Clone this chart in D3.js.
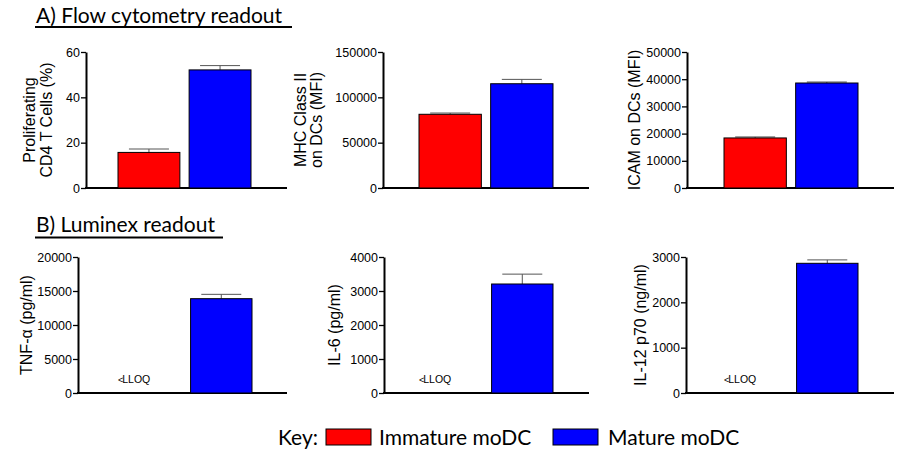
<!DOCTYPE html>
<html>
<head>
<meta charset="utf-8">
<script src="https://cdn.jsdelivr.net/npm/d3@7"></script>
<style>
  body { margin: 0; background: #fff; }
  svg { display: block; }
  .axis text { font-family: 'Liberation Sans', Arial, sans-serif; font-size: 12.5px; fill: #000; }
  .ylabel { font-family: 'Liberation Sans', Arial, sans-serif; font-size: 16px; fill: #000; }
  .head { font-family: Lato, 'Open Sans', sans-serif; font-size: 21px; fill: #000; }
</style>
</head>
<body>
<div id="chart"></div>
<script>
// groups and colours
const groups = ['Immature moDC', 'Mature moDC']
const groupColors = ['#ff0000', '#0000ff']

// one entry per panel (A top row, B bottom row)
const yLabels = [
  ['Proliferating', 'CD4 T Cells (%)'],
  ['MHC Class II', 'on DCs (MFI)'],
  ['ICAM on DCs (MFI)'],
  ['TNF-\u03b1 (pg/ml)'],
  ['IL-6 (pg/ml)'],
  ['IL-12 p70 (ng/ml)']
]
// null = below lower limit of quantification
const means = [
  [15.7, 52.1],
  [81300, 115000],
  [18400, 38600],
  [null, 13870],
  [null, 3206],
  [null, 2861]
]
const errors = [
  [1.5, 1.9],
  [1400, 4800],
  [370, 370],
  [null, 640],
  [null, 290],
  [null, 75]
]
const yMax = [60, 150000, 50000, 20000, 4000, 3000]
const yStep = [20, 50000, 10000, 5000, 1000, 1000]

const sectionTitles = ['A) Flow cytometry readout', 'B) Luminex readout']

// layout (pixels)
const layout = [
  { ax: 86, top: 52, bot: 188, bars: [118, 251], end: 287, lx: [35, 51.5] },
  { ax: 383, top: 52, bot: 188, bars: [419, 553], end: 589, lx: [305.5, 322] },
  { ax: 687, top: 52, bot: 188, bars: [724, 858], end: 894, lx: [640] },
  { ax: 78, top: 257, bot: 393, bars: [120, 252], end: 287, lx: [32] },
  { ax: 384, top: 257, bot: 393, bars: [421, 553], end: 589, lx: [340] },
  { ax: 686, top: 257, bot: 393, bars: [726, 858], end: 894, lx: [645.5] }
]

const svg = d3.select('#chart')
  .append('svg')
  .attr('width', 905)
  .attr('height', 453)

// section headings with underline
const heads = [{ x: 36, y: 23, ul: [35, 292], uy: 27 }, { x: 36, y: 232, ul: [35, 223], uy: 237.5 }]
heads.forEach(function (h, i) {
  svg.append('text').attr('class', 'head')
    .attr('x', h.x).attr('y', h.y)
    .text(sectionTitles[i])
  svg.append('line')
    .attr('x1', h.ul[0]).attr('x2', h.ul[1])
    .attr('y1', h.uy).attr('y2', h.uy)
    .attr('stroke', '#000').attr('stroke-width', 2)
})

layout.forEach(function (p, i) {
  const g = svg.append('g')

  const y = d3.scaleLinear().domain([0, yMax[i]]).range([p.bot, p.top])
  const x = d3.scaleBand().domain(groups).range(p.bars).paddingInner(0.13).paddingOuter(0)

  const ticks = d3.range(0, yMax[i] + yStep[i] / 2, yStep[i])
  const yAxis = d3.axisLeft(y)
    .tickValues(ticks)
    .tickFormat(d3.format('d'))
    .tickSize(5)
    .tickSizeOuter(0)
    .tickPadding(1)

  const ag = g.append('g')
    .attr('class', 'axis')
    .attr('transform', 'translate(' + p.ax + ',0)')
    .call(yAxis)
  ag.select('.domain').attr('stroke-width', 2)
  ag.selectAll('.tick line').attr('stroke-width', 1.3)

  // baseline
  g.append('line')
    .attr('x1', p.ax - 1).attr('x2', p.end)
    .attr('y1', p.bot).attr('y2', p.bot)
    .attr('stroke', '#000').attr('stroke-width', 2)

  const rows = groups.map(function (name, j) {
    return { name: name, value: means[i][j], err: errors[i][j], color: groupColors[j] }
  })

  const measured = rows.filter(d => d.value !== null)

  // error bars (upper only)
  g.selectAll('.err')
    .data(measured)
    .enter()
    .append('path')
    .attr('fill', 'none')
    .attr('stroke', '#555')
    .attr('stroke-width', 1)
    .attr('d', function (d) {
      const cx = x(d.name) + x.bandwidth() / 2
      const yt = y(d.value + d.err)
      return 'M' + cx + ',' + y(d.value) + 'V' + yt + 'M' + (cx - 20) + ',' + yt + 'H' + (cx + 20)
    })

  g.selectAll('rect')
    .data(measured)
    .enter()
    .append('rect')
    .attr('x', d => x(d.name))
    .attr('y', d => y(d.value))
    .attr('width', x.bandwidth())
    .attr('height', d => p.bot - y(d.value))
    .attr('fill', d => d.color)
    .attr('stroke', '#000')
    .attr('stroke-width', 1)

  // <LLOQ markers
  rows.filter(d => d.value === null).forEach(function (d) {
    const t = g.append('text')
      .attr('x', x(d.name) - 2)
      .attr('y', p.bot - 10)
      .style('font-family', "'Liberation Sans', Arial, sans-serif")
      .style('font-size', '10.5px')
    t.append('tspan').style('font-size', '9px').attr('dy', -0.5).text('<')
    t.append('tspan').attr('dy', 0.5).attr('dx', -1).text('LLOQ')
  })

  // y-axis title
  const midY = (p.top + p.bot) / 2
  yLabels[i].forEach(function (line, k) {
    g.append('text')
      .attr('class', 'ylabel')
      .attr('text-anchor', 'middle')
      .attr('transform', 'translate(' + p.lx[k] + ',' + midY + ') rotate(-90)')
      .text(line)
  })
})

// key
const key = svg.append('g')
  .style('font-family', "Lato, 'Open Sans', sans-serif")
  .style('font-size', '21px')
key.append('text').attr('x', 278).attr('y', 445).text('Key:')
const keyItems = [{ box: 326, tx: 379 }, { box: 553, tx: 608 }]
keyItems.forEach(function (k, j) {
  key.append('rect')
    .attr('x', k.box).attr('y', 429)
    .attr('width', 45).attr('height', 16)
    .attr('fill', groupColors[j])
    .attr('stroke', '#000').attr('stroke-width', 1)
  key.append('text').attr('x', k.tx).attr('y', 445).text(groups[j])
})
</script>
</body>
</html>
